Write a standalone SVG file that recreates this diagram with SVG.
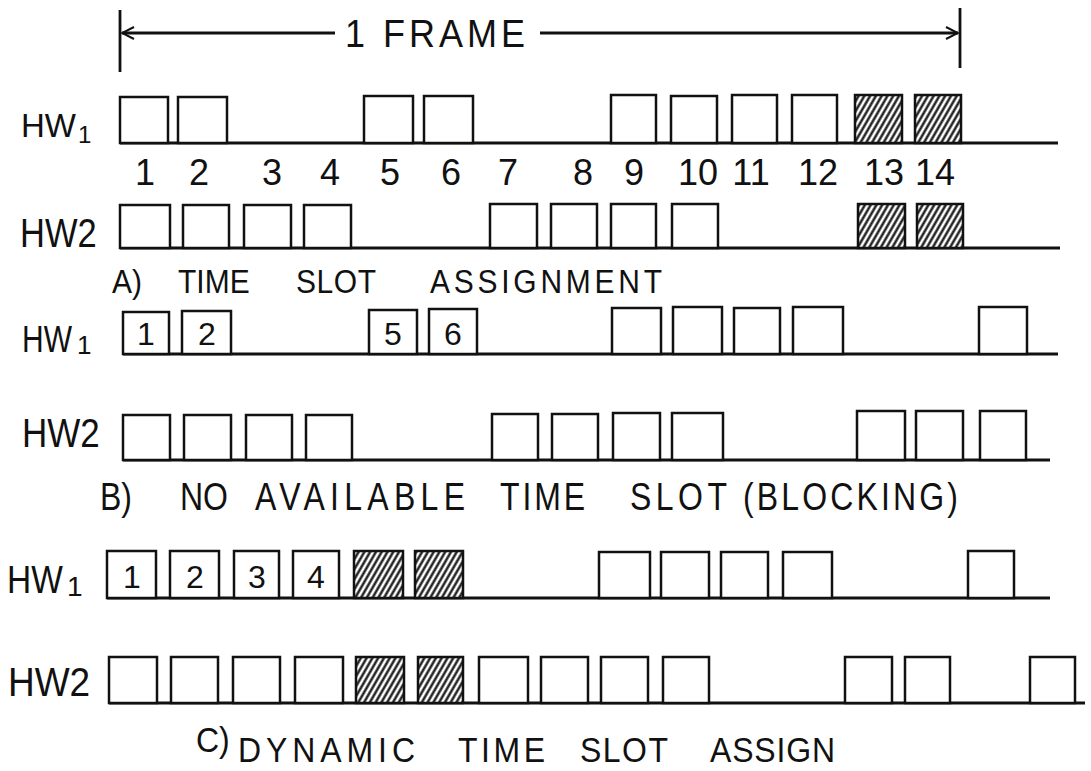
<svg xmlns="http://www.w3.org/2000/svg" width="1091" height="771" viewBox="0 0 1091 771">
<defs>
<pattern id="hatch" patternUnits="userSpaceOnUse" width="5" height="5" patternTransform="rotate(30)">
<rect width="5" height="5" fill="#fff"/>
<line x1="1.5" y1="0" x2="1.5" y2="5" stroke="#111" stroke-width="2.3"/>
</pattern>
<marker id="open" viewBox="0 0 14 14" refX="13" refY="7" markerWidth="14" markerHeight="14" markerUnits="userSpaceOnUse" orient="auto-start-reverse">
<path d="M1,1 L13,7 L1,13" fill="none" stroke="#111" stroke-width="2"/>
</marker>
</defs>
<style>
text{font-family:"Liberation Sans",Arial,sans-serif;fill:#111}
.b{fill:#fff;stroke:#111;stroke-width:2.5}
.h{fill:url(#hatch);stroke:#111;stroke-width:2.5}
.ln{stroke:#111;stroke-width:2.8;fill:none}
.num{font-size:36px;text-anchor:middle}
.in{font-size:32px;text-anchor:middle}
.ca{font-size:30px}
.cb{font-size:32px}
.cc{font-size:32px}
</style>
<rect width="1091" height="771" fill="#fff"/>

<g id="frame">
<line class="ln" x1="120" y1="10" x2="120" y2="72"/>
<line class="ln" x1="960" y1="8" x2="960" y2="68"/>
<line class="ln" x1="122" y1="33" x2="335" y2="33" marker-start="url(#open)"/>
<line class="ln" x1="540" y1="33" x2="958" y2="33" marker-end="url(#open)"/>
<g transform="translate(345,47) scale(1,1.1)"><text x="0" y="0" font-size="36" textLength="180" lengthAdjust="spacing">1  FRAME</text></g>
</g>

<g id="a-hw1">
<text x="21" y="137" font-size="33">HW</text><text x="78" y="143" font-size="24">1</text>
<line class="ln" x1="120" y1="143" x2="1058" y2="143"/>
<rect class="b" x="120" y="97" width="48" height="46"/>
<rect class="b" x="178" y="97" width="49" height="46"/>
<rect class="b" x="364" y="96" width="49" height="47"/>
<rect class="b" x="424" y="96" width="49" height="47"/>
<rect class="b" x="611" y="95" width="45" height="48"/>
<rect class="b" x="671" y="96" width="46" height="47"/>
<rect class="b" x="732" y="95" width="45" height="48"/>
<rect class="b" x="792" y="95" width="45" height="48"/>
<rect class="h" x="855" y="95" width="47" height="48"/>
<rect class="h" x="915" y="95" width="46" height="48"/>
</g>

<g id="slot-numbers">
<text class="num" x="145" y="185">1</text>
<text class="num" x="199" y="185">2</text>
<text class="num" x="272" y="185">3</text>
<text class="num" x="330" y="185">4</text>
<text class="num" x="390" y="185">5</text>
<text class="num" x="451" y="185">6</text>
<text class="num" x="508" y="185">7</text>
<text class="num" x="583" y="185">8</text>
<text class="num" x="634" y="185">9</text>
<text class="num" x="698" y="185">10</text>
<text class="num" x="751" y="185">11</text>
<text class="num" x="818" y="185">12</text>
<text class="num" x="884" y="185">13</text>
<text class="num" x="935" y="185">14</text>
</g>

<g id="a-hw2">
<g transform="translate(20,247) scale(1,1.2)"><text x="0" y="0" font-size="34.5">HW2</text></g>
<line class="ln" x1="120" y1="248" x2="1060" y2="248"/>
<rect class="b" x="120" y="205" width="50" height="43"/>
<rect class="b" x="183" y="205" width="46" height="43"/>
<rect class="b" x="244" y="205" width="47" height="43"/>
<rect class="b" x="304" y="205" width="47" height="43"/>
<rect class="b" x="490" y="204" width="47" height="44"/>
<rect class="b" x="551" y="204" width="46" height="44"/>
<rect class="b" x="611" y="204" width="45" height="44"/>
<rect class="b" x="672" y="204" width="46" height="44"/>
<rect class="h" x="858" y="204" width="47" height="44"/>
<rect class="h" x="917" y="204" width="46" height="44"/>
</g>

<g id="caption-a">
<g transform="translate(0,293) scale(1,1.12)">
<text class="ca" x="112" y="0">A)</text>
<text class="ca" x="178" y="0">TIME</text>
<text class="ca" x="296" y="0" textLength="80">SLOT</text>
<text class="ca" x="430" y="0" textLength="232">ASSIGNMENT</text>
</g>
</g>

<g id="b-hw1">
<g transform="translate(22,352) scale(1,1.25)"><text x="0" y="0" font-size="30">HW</text></g><text x="77" y="354" font-size="26">1</text>
<line class="ln" x1="123" y1="354" x2="1058" y2="354"/>
<rect class="b" x="123" y="312" width="46" height="42"/>
<rect class="b" x="182" y="311" width="49" height="43"/>
<rect class="b" x="369" y="310" width="48" height="44"/>
<rect class="b" x="429" y="309" width="48" height="45"/>
<rect class="b" x="612" y="308" width="49" height="46"/>
<rect class="b" x="673" y="307" width="49" height="47"/>
<rect class="b" x="734" y="308" width="46" height="46"/>
<rect class="b" x="793" y="307" width="50" height="47"/>
<rect class="b" x="979" y="307" width="48" height="47"/>
<text class="in" x="146" y="345">1</text>
<text class="in" x="207" y="345">2</text>
<text class="in" x="393" y="345">5</text>
<text class="in" x="453" y="345">6</text>
</g>

<g id="b-hw2">
<g transform="translate(22,447) scale(1,1.15)"><text x="0" y="0" font-size="35">HW2</text></g>
<line class="ln" x1="123" y1="460" x2="1050" y2="460"/>
<rect class="b" x="123" y="415" width="47" height="45"/>
<rect class="b" x="184" y="415" width="47" height="45"/>
<rect class="b" x="246" y="415" width="46" height="45"/>
<rect class="b" x="306" y="415" width="46" height="45"/>
<rect class="b" x="492" y="414" width="46" height="46"/>
<rect class="b" x="552" y="414" width="46" height="46"/>
<rect class="b" x="613" y="413" width="47" height="47"/>
<rect class="b" x="672" y="413" width="51" height="47"/>
<rect class="b" x="857" y="411" width="48" height="49"/>
<rect class="b" x="916" y="411" width="47" height="49"/>
<rect class="b" x="980" y="411" width="46" height="49"/>
</g>

<g id="caption-b">
<g transform="translate(0,510) scale(1,1.22)">
<text class="cb" x="100" y="0">B)</text>
<text class="cb" x="180" y="0">NO</text>
<text class="cb" x="255" y="0" textLength="210">AVAILABLE</text>
<text class="cb" x="500" y="0" textLength="85">TIME</text>
<text class="cb" x="630" y="0" textLength="97">SLOT</text>
<text class="cb" x="743" y="0" textLength="215">(BLOCKING)</text>
</g>
</g>

<g id="c-hw1">
<g transform="translate(7,593) scale(1,1.17)"><text x="0" y="0" font-size="33.5">HW</text></g><text x="67" y="596" font-size="28">1</text>
<line class="ln" x1="107" y1="598" x2="1050" y2="598"/>
<rect class="b" x="107" y="551" width="49" height="47"/>
<rect class="b" x="170" y="551" width="49" height="47"/>
<rect class="b" x="234" y="551" width="45" height="47"/>
<rect class="b" x="293" y="551" width="46" height="47"/>
<rect class="h" x="354" y="551" width="49" height="47"/>
<rect class="h" x="415" y="551" width="48" height="47"/>
<rect class="b" x="599" y="552" width="51" height="46"/>
<rect class="b" x="661" y="552" width="48" height="46"/>
<rect class="b" x="721" y="552" width="47" height="46"/>
<rect class="b" x="783" y="552" width="49" height="46"/>
<rect class="b" x="968" y="551" width="46" height="47"/>
<text class="in" x="132" y="588">1</text>
<text class="in" x="195" y="588">2</text>
<text class="in" x="257" y="588">3</text>
<text class="in" x="316" y="588">4</text>
</g>

<g id="c-hw2">
<g transform="translate(8,696) scale(1,1.1)"><text x="0" y="0" font-size="37">HW2</text></g>
<line class="ln" x1="109" y1="703" x2="1085" y2="703"/>
<rect class="b" x="109" y="657" width="48" height="46"/>
<rect class="b" x="171" y="657" width="47" height="46"/>
<rect class="b" x="233" y="657" width="47" height="46"/>
<rect class="b" x="295" y="657" width="48" height="46"/>
<rect class="h" x="356" y="657" width="48" height="46"/>
<rect class="h" x="418" y="657" width="45" height="46"/>
<rect class="b" x="479" y="657" width="49" height="46"/>
<rect class="b" x="541" y="657" width="47" height="46"/>
<rect class="b" x="601" y="657" width="47" height="46"/>
<rect class="b" x="663" y="657" width="46" height="46"/>
<rect class="b" x="845" y="657" width="47" height="46"/>
<rect class="b" x="905" y="657" width="45" height="46"/>
<rect class="b" x="1030" y="657" width="45" height="46"/>
</g>

<g id="caption-c">
<g transform="translate(196,752) scale(1,1.12)"><text class="cc" x="0" y="0">C)</text></g>
<g transform="translate(0,762) scale(1,1.12)">
<text class="cc" x="238" y="0" textLength="177">DYNAMIC</text>
<text class="cc" x="458" y="0" textLength="87">TIME</text>
<text class="cc" x="580" y="0" textLength="88">SLOT</text>
<text class="cc" x="710" y="0" textLength="125">ASSIGN</text>
</g>
</g>
</svg>
